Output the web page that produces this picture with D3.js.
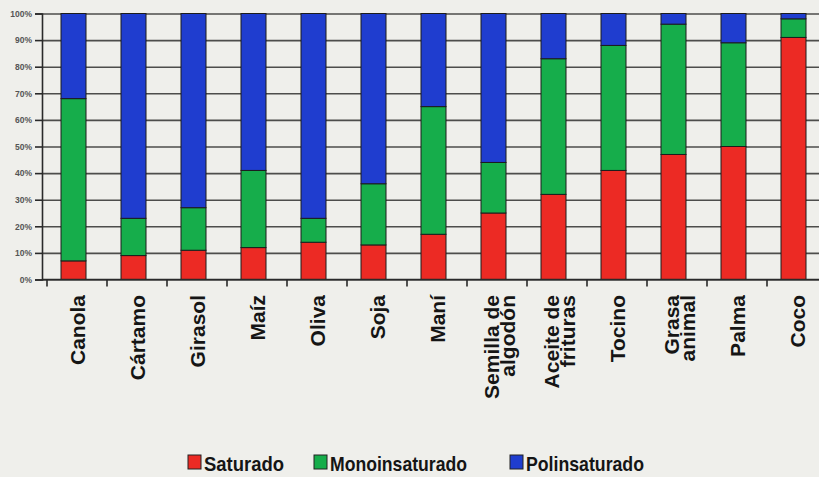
<!DOCTYPE html>
<html>
<head>
<meta charset="utf-8">
<script src="https://cdn.jsdelivr.net/npm/d3@7"></script>
<style>
  html, body { margin: 0; padding: 0; background: #efefeb; }
  svg { display: block; }
</style>
</head>
<body>
<svg id="chart" width="819" height="477"></svg>
<script>
// ---- data ----
const categories = ["Canola", "Cártamo", "Girasol", "Maíz", "Oliva", "Soja", "Maní",
  "Semilla de\nalgodón", "Aceite de\nfrituras", "Tocino", "Grasa\nanimal", "Palma", "Coco"];
const saturado        = [7, 9, 11, 12, 14, 13, 17, 25, 32, 41, 47, 50, 91];
const monoinsaturado  = [61, 14, 16, 29, 9, 23, 48, 19, 51, 47, 49, 39, 7];
const polinsaturado   = [32, 77, 73, 59, 77, 64, 35, 56, 17, 12, 4, 11, 2];
const seriesNames = ["Saturado", "Monoinsaturado", "Polinsaturado"];
const yTicks = [0, 10, 20, 30, 40, 50, 60, 70, 80, 90, 100];

// ---- layout ----
const colors = { Saturado: "#ec2a24", Monoinsaturado: "#16ad4b", Polinsaturado: "#1f3dcf" };
const svg = d3.select("#chart");
const plotLeft = 42, plotTop = 13.5, plotBottom = 279.5, plotRight = 819;
const barShift = -3.5;

const rows = categories.map((c, i) => ({
  cat: c, Saturado: saturado[i], Monoinsaturado: monoinsaturado[i], Polinsaturado: polinsaturado[i]
}));

const x = d3.scaleBand().domain(categories).range([47, 827])
  .paddingInner(35 / 60).paddingOuter(35 / 120);
const y = d3.scaleLinear().domain([0, 100]).range([plotBottom, plotTop]);

// gridlines
svg.append("g")
  .attr("transform", `translate(${plotLeft},0)`)
  .call(d3.axisLeft(y).tickValues(yTicks).tickSize(-(plotRight - plotLeft)).tickFormat(""))
  .call(g => g.select(".domain").remove())
  .call(g => g.selectAll("line").attr("stroke", "#4d4d4b").attr("stroke-width", 1.6));

// y axis
svg.append("g")
  .attr("transform", `translate(${plotLeft},0)`)
  .call(d3.axisLeft(y).tickValues(yTicks).tickSize(7).tickPadding(3).tickFormat(d => d + "%"))
  .call(g => g.select(".domain").attr("stroke", "#2a2a2a").attr("stroke-width", 1.6))
  .call(g => g.selectAll("line").attr("stroke", "#2a2a2a").attr("stroke-width", 1.6))
  .call(g => g.selectAll("text")
    .attr("font-family", "Liberation Sans, Arial, sans-serif")
    .attr("font-weight", "bold").attr("font-size", 8.5).attr("fill", "#555"));

// stacked bars
const stack = d3.stack().keys(seriesNames)(rows);
svg.append("g").selectAll("g").data(stack).join("g")
  .attr("fill", s => colors[s.key])
  .selectAll("rect").data(s => s).join("rect")
  .attr("x", d => x(d.data.cat) + barShift)
  .attr("width", x.bandwidth())
  .attr("y", d => y(d[1]))
  .attr("height", d => y(d[0]) - y(d[1]))
  .attr("stroke", "#1c1c1c").attr("stroke-width", 1);

// bottom axis line + ticks at cell boundaries
const step = x.step();
const boundaries = categories.map(c => x(c) + x.bandwidth() / 2 - step / 2);
svg.append("line").attr("x1", plotLeft).attr("x2", plotRight).attr("y1", plotBottom).attr("y2", plotBottom)
  .attr("stroke", "#2a2a2a").attr("stroke-width", 1.6);
svg.append("g").selectAll("line").data(boundaries).join("line")
  .attr("x1", d => d).attr("x2", d => d).attr("y1", plotBottom).attr("y2", plotBottom + 7)
  .attr("stroke", "#2a2a2a").attr("stroke-width", 1.6);

// category labels (rotated)
const lab = svg.append("g").selectAll("text").data(categories).join("text")
  .attr("transform", c => `translate(${x(c) + x.bandwidth() / 2},295) rotate(-90)`)
  .attr("text-anchor", "end")
  .attr("font-family", "Liberation Sans, Arial, sans-serif")
  .attr("font-weight", "bold").attr("font-size", 21).attr("fill", "#151515");
lab.each(function (c) {
  const lines = c.split("\n");
  const t = d3.select(this);
  if (lines.length === 1) {
    t.append("tspan").attr("x", 0).attr("y", 7.5).text(lines[0]);
  } else {
    t.append("tspan").attr("x", 0).attr("y", 1.5).text(lines[0]);
    t.append("tspan").attr("x", 0).attr("y", 17.5).text(lines[1]);
  }
});

// legend
const legendX = [188, 314, 510];
const legendW = [80, 137, 118];
const lg = svg.append("g").selectAll("g").data(seriesNames).join("g")
  .attr("transform", (d, i) => `translate(${legendX[i]},0)`);
lg.append("rect").attr("x", 0).attr("y", 455).attr("width", 13).attr("height", 14)
  .attr("fill", d => colors[d]).attr("stroke", "#222").attr("stroke-width", 1);
lg.append("text").attr("x", 16).attr("y", 470.5)
  .attr("font-family", "Liberation Sans, Arial, sans-serif")
  .attr("font-weight", "bold").attr("font-size", 21).attr("fill", "#151515")
  .attr("textLength", (d, i) => legendW[i]).attr("lengthAdjust", "spacingAndGlyphs")
  .text(d => d);
</script>
</body>
</html>
